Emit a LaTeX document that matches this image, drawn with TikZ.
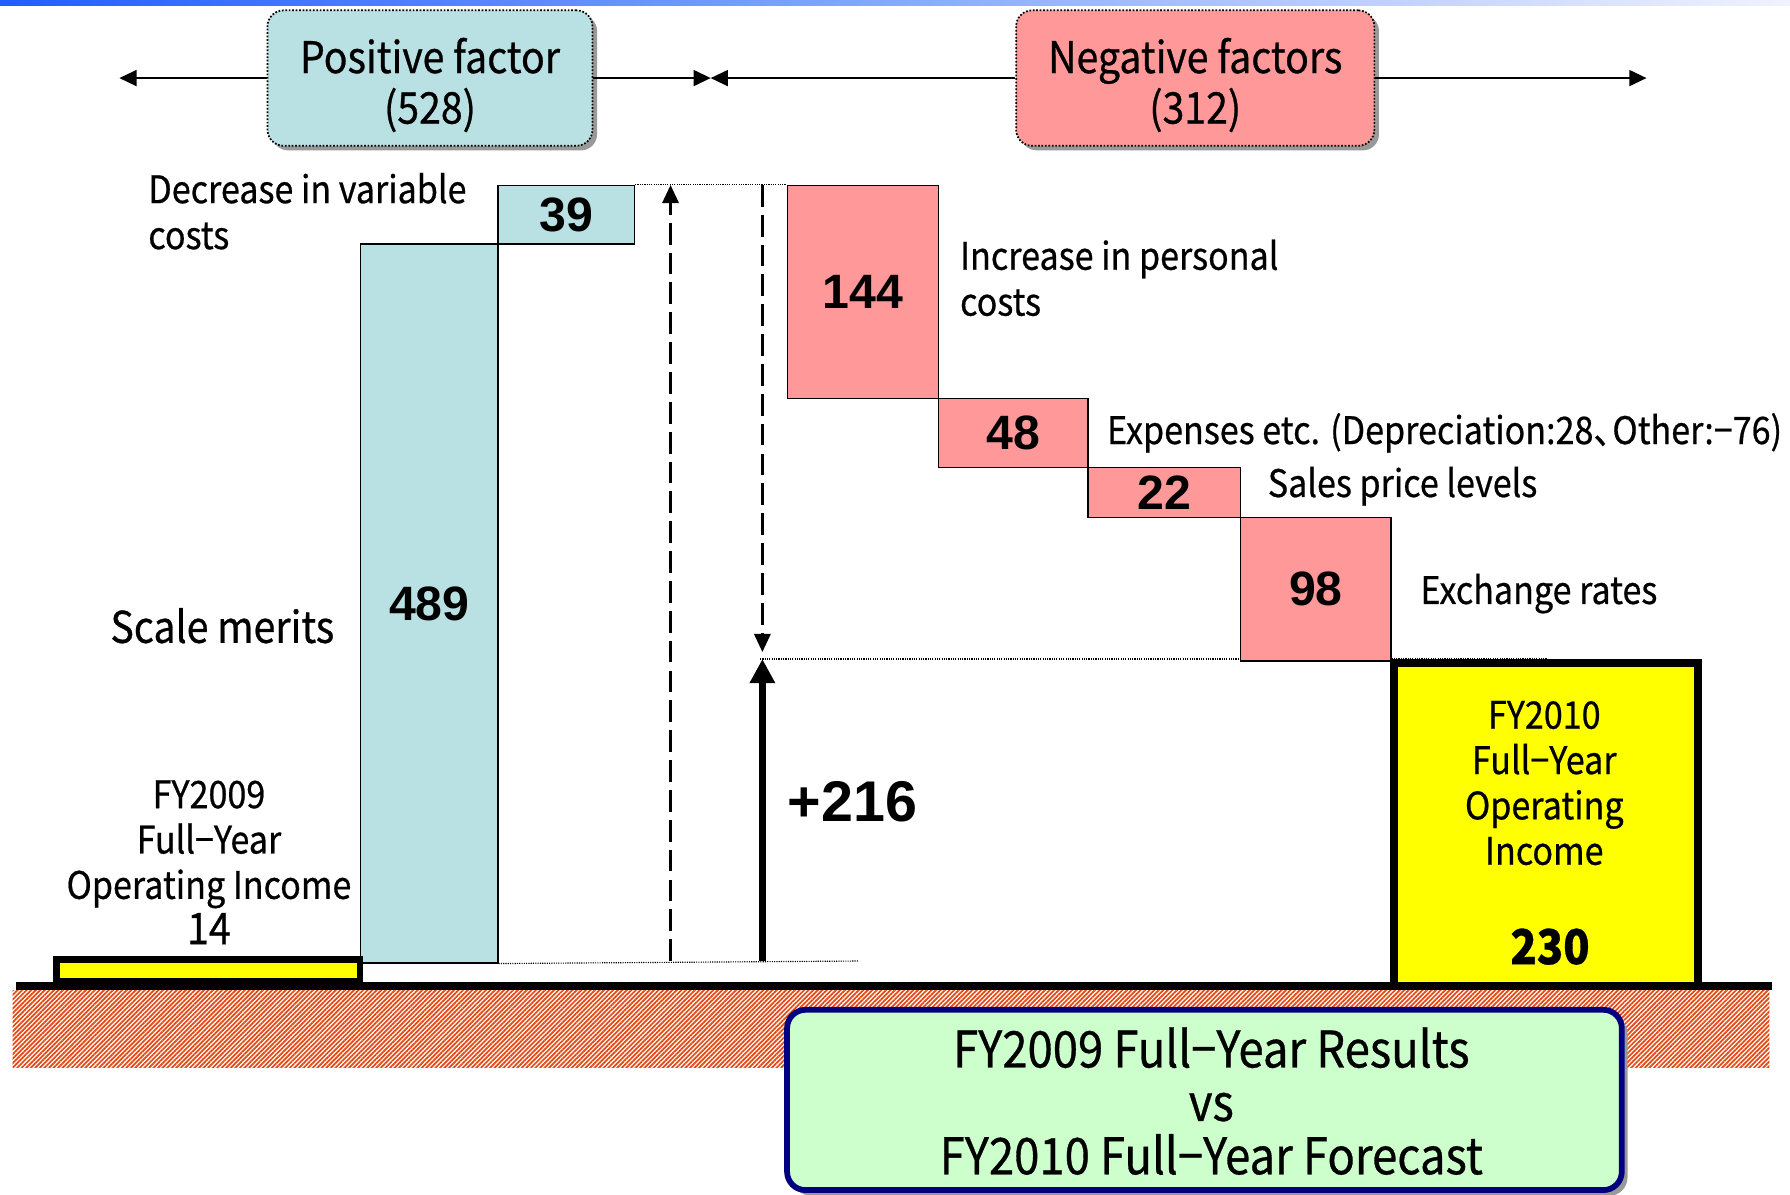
\documentclass[tikz,border=0pt]{standalone}
\usepackage{fontspec}
\setmainfont{Noto Sans CJK JP}[FakeStretch=0.9, FakeBold=0.6]
\newfontfamily\numfont{Liberation Sans}
\usetikzlibrary{arrows.meta,positioning,shadows,patterns.meta}

\definecolor{posfill}{RGB}{185,224,227}
\definecolor{negfill}{RGB}{255,153,153}
\definecolor{yelfill}{RGB}{255,255,0}
\definecolor{resfill}{RGB}{204,255,204}
\definecolor{resline}{RGB}{0,0,128}
\definecolor{hatchcol}{RGB}{232,70,16}
\definecolor{topblue}{RGB}{30,95,255}
\definecolor{topend}{RGB}{240,242,255}

\begin{document}
\begin{tikzpicture}[x=1pt,y=-1pt]

    \tikzset{
      bar/.style={
        draw,
        line width=1.2pt,
        anchor=north west,
        inner sep=0pt,
        font=\numfont\bfseries\fontsize{42}{42}\selectfont,
      },
      posbar/.style={bar, fill=posfill},
      negbar/.style={bar, fill=negfill},
      factor/.style={
        draw,
        line width=1.5pt,
        dash pattern=on 1.5pt off 1.5pt,
        rounded corners=14pt,
        minimum height=118pt,
        drop shadow={shadow xshift=4pt, shadow yshift=-4pt, fill=black!40, opacity=1},
      },
      factortxt/.style={align=center, inner sep=0pt, font=\fontsize{38}{44}\selectfont},
      lbl/.style={anchor=west, align=left, inner sep=0pt, font=\fontsize{33}{40}\selectfont},
      income/.style={align=center, inner sep=0pt, font=\fontsize{33}{39.5}\selectfont},
      dotline/.style={line width=1pt, dash pattern=on 1pt off 1pt},
      factorarrow/.style={line width=1.5pt, -{Triangle[length=15pt,width=14pt]}},
      dasharrow/.style={line width=3pt, dash pattern=on 19pt off 7pt, -{Triangle[length=16pt,width=14pt]}},
    }
    \useasboundingbox (0,0) rectangle (1559,1040);

    % top band
    \shade[left color=topblue, right color=topend] (0,0) rectangle (1559,5);

    % guide levels
    \coordinate (lvl) at (662,574);
    \coordinate (lvlR) at (1348,574);
    \coordinate (baseR) at (748,837);
    \draw[dotline] (lvl) -- (lvlR);

    % bars
    \node[posbar, minimum width=119.5pt, minimum height=626pt] (b489) at (313.5,212) {489};
    \node[posbar, minimum width=119pt, minimum height=51pt] (b39) at (433,161) {39};
    \node[negbar, minimum width=132pt, minimum height=185.5pt] (b144) at (685,161) {144};
    \node[negbar, minimum width=130pt, minimum height=60pt] (b48) at (817,346.5) {48};
    \node[negbar, minimum width=133pt, minimum height=43.5pt] (b22) at (947,406.5) {22};
    \node[negbar, minimum width=131pt, minimum height=125pt] (b98) at (1080,450) {98};
    \draw[dotline] (b39.north east) -- (b144.north west);
    \draw[dotline] (b489.south east) -- (baseR);

    % factor boxes
    \node[factor, fill=posfill, minimum width=283pt] (posf) at (374.5,68) {};
    \node[factor, fill=negfill, minimum width=312pt] (negf) at (1041,68) {};
    \node[factortxt] (posftxt) at ([yshift=-6pt]posf.center) {Positive factor\\(528)};
    \node[factortxt] (negftxt) at ([yshift=-6pt]negf.center) {Negative factors\\(312)};
    \coordinate (lt) at (104,68);
    \coordinate (mid) at (619,68);
    \coordinate (rt) at (1434,68);
    \draw[factorarrow] (posf) -- (lt);
    \draw[factorarrow] (posf) -- (mid);
    \draw[factorarrow] (negf) -- (mid);
    \draw[factorarrow] (negf) -- (rt);

    % labels
    \node[lbl] (varlbl) at (129,184) {Decrease in variable\\costs};
    \node[lbl, font=\fontsize{38}{44}\selectfont] (scalelbl) at (96,545) {Scale merits};
    \node[lbl] (perslbl) at (836,242) {Increase in personal\\costs};
    \node[lbl] (explbl) at (964,377) {Expenses etc. (Depreciation:28\makebox[0.5em][l]{、}Other:−76)};
    \node[lbl] (pricelbl) at (1104,423.5) {Sales price levels};
    \node[lbl] (fxlbl) at (1237,517) {Exchange rates};

    % change arrows
    \coordinate (upS) at (584,837);
    \coordinate (upE) at (584,161);
    \coordinate (dnS) at (664,161);
    \coordinate (dnE) at (664,568);
    \coordinate (gainS) at (664,837);
    \coordinate (gainE) at (664,574);
    \draw[dasharrow] (upS) -- (upE);
    \draw[dasharrow] (dnS) -- (dnE);
    \draw[line width=6pt, -{Triangle[length=21pt,width=21pt]}] (gainS) -- (gainE);
    \node[anchor=west, inner sep=0pt, font=\numfont\bfseries\fontsize{50}{50}\selectfont] (gain) at (686,698) {+216};

    % ground
    \fill[pattern={Lines[angle=45,distance=2.8pt,line width=1.5pt]}, pattern color=hatchcol] (11,863) rectangle (1541,930);
    \coordinate (gl) at (14,859);
    \coordinate (gr) at (1543,859);
    \draw[line width=7pt] (gl) -- (gr);

    % operating income
    \node[draw, line width=6pt, fill=yelfill, inner sep=0pt, minimum width=264.5pt, minimum height=19pt] (fy09) at (181.25,845.5) {};
    \node[income] (fy09txt) at (182,751) {FY2009\\Full−Year\\Operating Income\\{\fontsize{38}{40}\selectfont 14}};
    \node[draw, line width=6.5pt, fill=yelfill, inner sep=0pt, minimum width=264.5pt, minimum height=281.5pt] (fy10) at (1346.5,718) {};
    \node[income] (fy10txt) at (1345,682) {FY2010\\Full−Year\\Operating\\Income};
    \node[inner sep=0pt, font=\bfseries\fontsize{42}{42}\selectfont] (fy10val) at (1350,824.5) {230};

    % title
    \node[draw=resline, line width=5pt, fill=resfill, rounded corners=16pt, minimum width=727pt, minimum height=157pt,
      drop shadow={shadow xshift=5pt, shadow yshift=-5pt, fill=black!40, opacity=1}] (title) at (1049,958) {};
    \node[align=center, inner sep=0pt, font=\fontsize{44}{46.5}\selectfont] (titletxt) at (1055,959) {FY2009 Full−Year Results\\vs\\FY2010 Full−Year Forecast};

\end{tikzpicture}
\end{document}
